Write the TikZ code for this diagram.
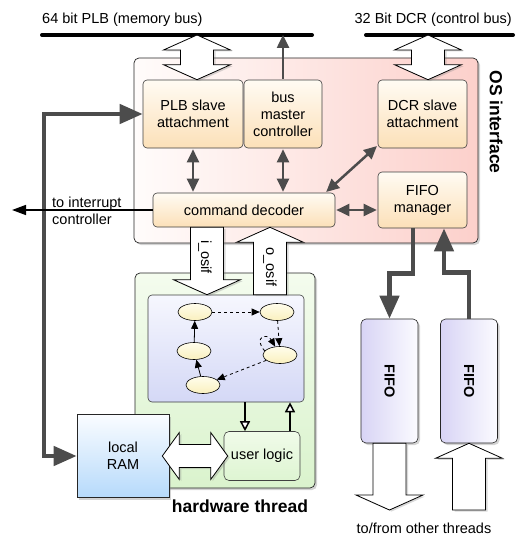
\documentclass[tikz,border=0pt]{standalone}
\usepackage{fontspec}
\setmainfont{Liberation Sans}
\usetikzlibrary{arrows.meta,calc,shadows,shapes.geometric}

\definecolor{osleft}{RGB}{255,252,251}
\definecolor{osright}{RGB}{252,208,203}
\definecolor{unittop}{RGB}{255,251,243}
\definecolor{unitbot}{RGB}{252,224,184}
\definecolor{hwtop}{RGB}{244,252,238}
\definecolor{hwbot}{RGB}{218,243,205}
\definecolor{fsmtop}{RGB}{246,247,254}
\definecolor{fsmbot}{RGB}{212,216,246}
\definecolor{statetop}{RGB}{255,253,236}
\definecolor{statebot}{RGB}{250,240,190}
\definecolor{ultop}{RGB}{240,251,233}
\definecolor{ulbot}{RGB}{222,245,210}
\definecolor{ramtop}{RGB}{250,252,255}
\definecolor{rambot}{RGB}{182,218,251}
\definecolor{fifoleft}{RGB}{216,212,245}
\definecolor{fiforight}{RGB}{251,251,255}

% sizes of the wide white arrows: half shaft, half head, head length
\def\fatS{16.5pt}
\def\fatH{33.5pt}
\def\fatL{15pt}

\begin{document}
\begin{tikzpicture}[x=1pt,y=-1pt,every node/.style={font=\fontsize{14.5}{17}\selectfont,inner sep=2pt}]
    \tikzstyle{bus}=[line width=4pt,line cap=round]
    \tikzstyle{osbox}=[draw=black!85,line width=0.7pt,rounded corners=5pt,left color=osleft,right color=osright,
        drop shadow={opacity=0.35,shadow xshift=2pt,shadow yshift=-2pt}]
    \tikzstyle{unit}=[draw=black!75,line width=0.6pt,rounded corners=4pt,top color=unittop,bottom color=unitbot,align=center,inner sep=0pt]
    \tikzstyle{hwbox}=[draw=black!85,line width=0.7pt,rounded corners=5pt,top color=hwtop,bottom color=hwbot,
        drop shadow={opacity=0.35,shadow xshift=2pt,shadow yshift=-2pt}]
    \tikzstyle{fsmbox}=[draw=black!75,line width=0.6pt,rounded corners=4pt,top color=fsmtop,bottom color=fsmbot]
    \tikzstyle{state}=[ellipse,draw=black,line width=0.6pt,top color=statetop,bottom color=statebot,minimum width=34pt,minimum height=17pt,inner sep=0pt]
    \tikzstyle{ulbox}=[draw=black!75,line width=0.6pt,rounded corners=5pt,top color=ultop,bottom color=ulbot]
    \tikzstyle{rambox}=[draw=black!85,line width=0.6pt,top color=ramtop,bottom color=rambot,align=center,
        drop shadow={opacity=0.35,shadow xshift=2pt,shadow yshift=-2pt}]
    \tikzstyle{fifo}=[draw=black!85,line width=0.6pt,rounded corners=5pt,left color=fifoleft,right color=fiforight,
        minimum width=57pt,minimum height=124pt,drop shadow={opacity=0.35,shadow xshift=2pt,shadow yshift=-2pt}]
    \tikzstyle{biglabel}=[font={\fontsize{17.5}{20}\selectfont\bfseries}]
    \tikzstyle{heavy}=[draw=black!70,line width=4.5pt,>={Triangle[length=23pt,width=19pt]}]
    \tikzstyle{medium}=[draw=black!70,line width=2.5pt,shorten >=1pt,shorten <=1pt,>={Triangle[length=13pt,width=12pt]}]
    \tikzstyle{irqline}=[draw=black,line width=1.5pt,>={Triangle[length=14pt,width=10pt]}]
    \tikzstyle{fsmedge}=[draw=black,line width=0.8pt,>={Triangle[length=8pt,width=7pt]}]
    \tikzstyle{openarrow}=[draw=black,line width=1.5pt,>={Triangle[fill=white,length=10pt,width=10pt]}]
    \tikzstyle{fatarrow}=[draw=black,fill=white,line width=0.8pt,line join=miter,
        drop shadow={opacity=0.3,shadow xshift=2pt,shadow yshift=-1.5pt}]
    \tikzset{
        fatsize/.code n args={3}{\def\fatS{#1}\def\fatH{#2}\def\fatL{#3}},
        fat/.style={fatarrow,to path={
            let \p3=($(\tikztotarget)!\fatL!(\tikztostart)$) in
            ($(\tikztostart)!\fatS!90:(\tikztotarget)$) -- ($(\p3)!\fatS!90:(\tikztotarget)$)
            -- ($(\p3)!\fatH!90:(\tikztotarget)$) -- (\tikztotarget)
            -- ($(\p3)!\fatH!-90:(\tikztotarget)$) -- ($(\p3)!\fatS!-90:(\tikztotarget)$)
            -- ($(\tikztostart)!\fatS!-90:(\tikztotarget)$) -- cycle}},
        fat2/.style={fatarrow,to path={
            let \p3=($(\tikztotarget)!\fatL!(\tikztostart)$),
                \p4=($(\tikztostart)!\fatL!(\tikztotarget)$) in
            (\tikztostart) -- ($(\p4)!\fatH!90:(\tikztotarget)$) -- ($(\p4)!\fatS!90:(\tikztotarget)$)
            -- ($(\p3)!\fatS!90:(\tikztotarget)$) -- ($(\p3)!\fatH!90:(\tikztotarget)$) -- (\tikztotarget)
            -- ($(\p3)!\fatH!-90:(\tikztotarget)$) -- ($(\p3)!\fatS!-90:(\tikztotarget)$)
            -- ($(\p4)!\fatS!-90:(\tikztotarget)$) -- ($(\p4)!\fatH!-90:(\tikztotarget)$) -- cycle}}
    }

    \useasboundingbox (0,0) rectangle (531,535);

    % Buses
    \coordinate (plb-l) at (42,35);
    \coordinate (plb-r) at (312,35);
    \coordinate (dcr-l) at (366,35);
    \coordinate (dcr-r) at (513,35);
    \draw[bus] (plb-l) -- (plb-r);
    \draw[bus] (dcr-l) -- (dcr-r);
    \node[anchor=west] (plb-label) at (40,20) {64 bit PLB (memory bus)};
    \node[anchor=east] (dcr-label) at (514,20) {32 Bit DCR (control bus)};

    % OS interface and its units
    \node[osbox,minimum width=344pt,minimum height=185pt] (osif) at (306,150.5) {};
    \node[biglabel,rotate=-90] (osif-label) at (496,122) {OS interface};
    \node[unit,minimum width=100pt,minimum height=68pt] (plbslave) at (193,114) {PLB slave\\attachment};
    \node[unit,minimum width=78pt,minimum height=68pt] (busmaster) at (283,114) {bus\\master\\controller};
    \node[unit,minimum width=89pt,minimum height=68pt] (dcrslave) at (422.5,114) {DCR slave\\attachment};
    \node[unit,minimum width=182pt,minimum height=34pt] (cmddec) at (244,210) {command decoder};
    \node[unit,minimum width=89pt,minimum height=56pt] (fifomgr) at (422.5,200) {FIFO\\manager};

    % Hardware thread
    \node[hwbox,minimum width=180pt,minimum height=215pt] (hwt) at (225,380.5) {};
    \node[biglabel] (hwt-label) at (240,506) {hardware thread};
    \node[fsmbox,minimum width=156pt,minimum height=107pt] (fsm) at (226,348.5) {};
    \foreach \name/\x/\y in {1/195/312,2/277/312,3/194/351,4/280/355,5/203/385}
        \node[state] (S-\name) at (\x,\y) {};
    \node[ulbox,minimum width=76pt,minimum height=49pt] (userlogic) at (262,456) {user logic};
    \node[rambox,minimum width=92pt,minimum height=83pt] (ram) at (123,456) {local\\RAM};

    % FIFOs
    \foreach \name/\x in {1/389.5,2/469} {
        \node[fifo] (F-\name) at (\x,381) {};
        \node[font={\fontsize{14.5}{17}\selectfont\bfseries},rotate=-90] (F-\name-label) at (F-\name) {FIFO};
    }
    \node (others) at (424,528) {to/from other threads};

    % Wide data paths
    \coordinate (plb-tap) at (197,35);
    \coordinate (dcr-tap) at (428,35);
    \draw[fat2] (plb-tap) to ([xshift=4pt]plbslave.north);
    \draw[fat2] (dcr-tap) to ([xshift=5.5pt]dcrslave.north);
    \draw[fat] ([xshift=-37pt]cmddec.south) to ([xshift=-19pt]fsm.north);
    \draw[fat] ([xshift=44pt]fsm.north) to ([xshift=26pt]cmddec.south);
    \node[rotate=-90] (i-osif) at (205,257) {i\_osif};
    \node[rotate=-90] (o-osif) at (270,267) {o\_osif};
    \draw[fat2,fatsize={11.5pt}{23.5pt}{17pt}] ([xshift=-7pt]ram.east) to ([xshift=4pt]userlogic.west);
    \coordinate (fifo-out) at (389.5,510);
    \coordinate (fifo-in) at (469,510);
    \draw[fat] (F-1.south) to (fifo-out);
    \draw[fat] (fifo-in) to (F-2.south);

    % Heavy connections
    \coordinate (ram-bus) at (44,300);
    \draw[heavy,<->] (plbslave.west) -| (ram-bus) |- (ram.west);
    \draw[heavy,->] ([xshift=-9.5pt]fifomgr.south) -- ++(0,45) -| (F-1.north);
    \draw[heavy,->] (F-2.north) -- ++(0,-46) -| ([xshift=21.5pt]fifomgr.south);

    % Connections inside the OS interface
    \draw[medium,<->] (plbslave.south) -- (plbslave.south |- cmddec.north);
    \draw[medium,<->] (busmaster.south) -- (busmaster.south |- cmddec.north);
    \draw[medium,<->] (dcrslave.215) -- (cmddec.12);
    \draw[medium,<->] (cmddec.east) -- (cmddec.east -| fifomgr.west);
    \draw[medium,->,shorten >=0pt] (busmaster.north) -- (busmaster.north |- plb-r);

    % Interrupt line
    \coordinate (irq) at (12,210);
    \draw[irqline,->] (cmddec.west) -- (irq);
    \node[anchor=west,align=left] (irq-label) at (50,211) {to interrupt\\controller};

    % State machine
    \draw[fsmedge,->,dashed] (S-1) -- (S-2);
    \draw[fsmedge,->,dashed] (S-2) -- (S-4);
    \draw[fsmedge,->,dashed] (S-4.165) .. controls +(-12,-14) and +(-8,-14) .. (S-4.120);
    \draw[fsmedge,->,dashed] (S-4) -- (S-5);
    \draw[fsmedge,->] (S-5) -- (S-3);
    \draw[fsmedge,->] (S-3) -- (S-1);

    % State machine and user logic
    \coordinate (ul-in) at ([xshift=-17pt]userlogic.north);
    \coordinate (ul-out) at ([xshift=28pt]userlogic.north);
    \draw[openarrow,->] (fsm.south -| ul-in) -- (ul-in);
    \draw[openarrow,->] (ul-out) -- (ul-out |- fsm.south);
\end{tikzpicture}
\end{document}
